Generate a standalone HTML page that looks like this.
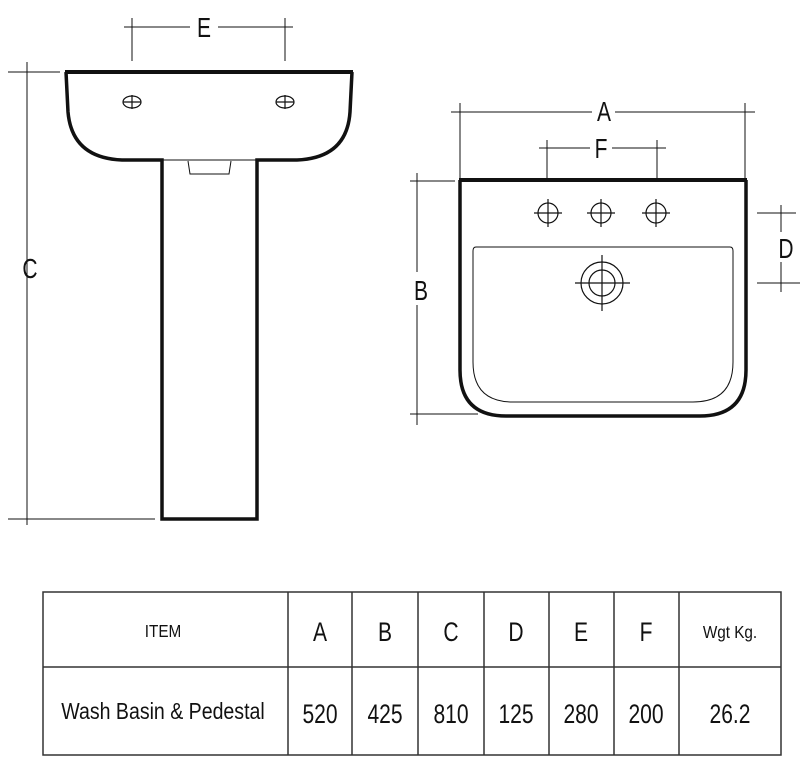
<!DOCTYPE html>
<html><head><meta charset="utf-8"><style>html,body{margin:0;padding:0;background:#fff}svg{display:block}</style></head>
<body>
<svg width="800" height="766" viewBox="0 0 800 766" xmlns="http://www.w3.org/2000/svg" font-family="Liberation Sans, sans-serif" fill="none" stroke="#111">
<path d="M65,72 H353" stroke-width="4"/>
<path d="M66,72 L68,112 Q72,158 122,160 H162 V519 H257 V160 H297 Q347,158 350,112 L352,72" stroke-width="3.5"/>
<path d="M162,160 H257" stroke-width="1"/>
<path d="M188,161 L190,174 H229 L231,161" stroke-width="1"/>
<ellipse cx="132" cy="102" rx="9" ry="6" stroke-width="1.2"/><path d="M123,102 H141 M132,95 V109" stroke-width="1.2"/>
<ellipse cx="285" cy="102" rx="9" ry="6" stroke-width="1.2"/><path d="M276,102 H294 M285,95 V109" stroke-width="1.2"/>
<path d="M124,27 H190 M218,27 H293 M132,18 V61 M285,18 V61" stroke-width="1"/>
<path d="M27,62 V525 M8,72 H60 M8,519 H155" stroke-width="1"/>
<path d="M459,180 H747" stroke-width="4"/>
<path d="M460,180 V370 Q460,416 506,416 H700 Q746,416 746,370 V180" stroke-width="3.5"/>
<path d="M476,247 H730 Q733,247 733,251 V362 Q733,402 693,402 H513 Q473,402 473,362 V251 Q473,247 476,247 Z" stroke-width="1"/>
<g stroke-width="1.2">
<circle cx="548" cy="213" r="10"/><path d="M534,213 H562 M548,199 V227"/>
<circle cx="601" cy="213" r="10"/><path d="M587,213 H615 M601,199 V227"/>
<circle cx="656" cy="213" r="10"/><path d="M642,213 H670 M656,199 V227"/>
<circle cx="602" cy="283" r="21"/><circle cx="602" cy="283" r="13"/><path d="M575,283 H630 M602,255 V311"/>
</g>
<path d="M451,112 H592 M615,112 H755 M460,103 V178 M745,103 V178" stroke-width="1"/>
<path d="M539,148 H590 M612,148 H666 M547,140 V178 M657,140 V178" stroke-width="1"/>
<path d="M417,173 V272 M417,305 V425 M410,181 H455 M410,414 H478" stroke-width="1"/>
<path d="M781,205 V232 M781,262 V292 M757,213 H796 M757,283 H800" stroke-width="1"/>
<g fill="#111" stroke="none" font-size="28" text-anchor="middle">
<text transform="translate(204,37) scale(0.75,1)">E</text>
<text transform="translate(30,278) scale(0.75,1)">C</text>
<text transform="translate(604,121) scale(0.75,1)">A</text>
<text transform="translate(601,158) scale(0.75,1)">F</text>
<text transform="translate(421,300) scale(0.75,1)">B</text>
<text transform="translate(786,258) scale(0.75,1)">D</text>
</g>
<g stroke="#333" stroke-width="1.5">
<rect x="43" y="592" width="738" height="163"/>
<path d="M43,667 H781 M288,592 V755 M352,592 V755 M418,592 V755 M484,592 V755 M549,592 V755 M614,592 V755 M679,592 V755"/>
</g>
<g fill="#111" stroke="none" text-anchor="middle">
<text transform="translate(163,637) scale(0.85,1)" font-size="18">ITEM</text>
<text transform="translate(163,719) scale(0.85,1)" font-size="23">Wash Basin &amp; Pedestal</text>
<g font-size="27">
<text transform="translate(320,641) scale(0.78,1)">A</text><text transform="translate(385,641) scale(0.78,1)">B</text><text transform="translate(451,641) scale(0.78,1)">C</text><text transform="translate(516,641) scale(0.78,1)">D</text><text transform="translate(581,641) scale(0.78,1)">E</text><text transform="translate(646,641) scale(0.78,1)">F</text>
<text transform="translate(320,723) scale(0.78,1)">520</text><text transform="translate(385,723) scale(0.78,1)">425</text><text transform="translate(451,723) scale(0.78,1)">810</text><text transform="translate(516,723) scale(0.78,1)">125</text><text transform="translate(581,723) scale(0.78,1)">280</text><text transform="translate(646,723) scale(0.78,1)">200</text><text transform="translate(730,723) scale(0.78,1)">26.2</text>
</g>
<text transform="translate(730,638) scale(0.85,1)" font-size="18">Wgt Kg.</text>
</g>
</svg>
</body></html>
